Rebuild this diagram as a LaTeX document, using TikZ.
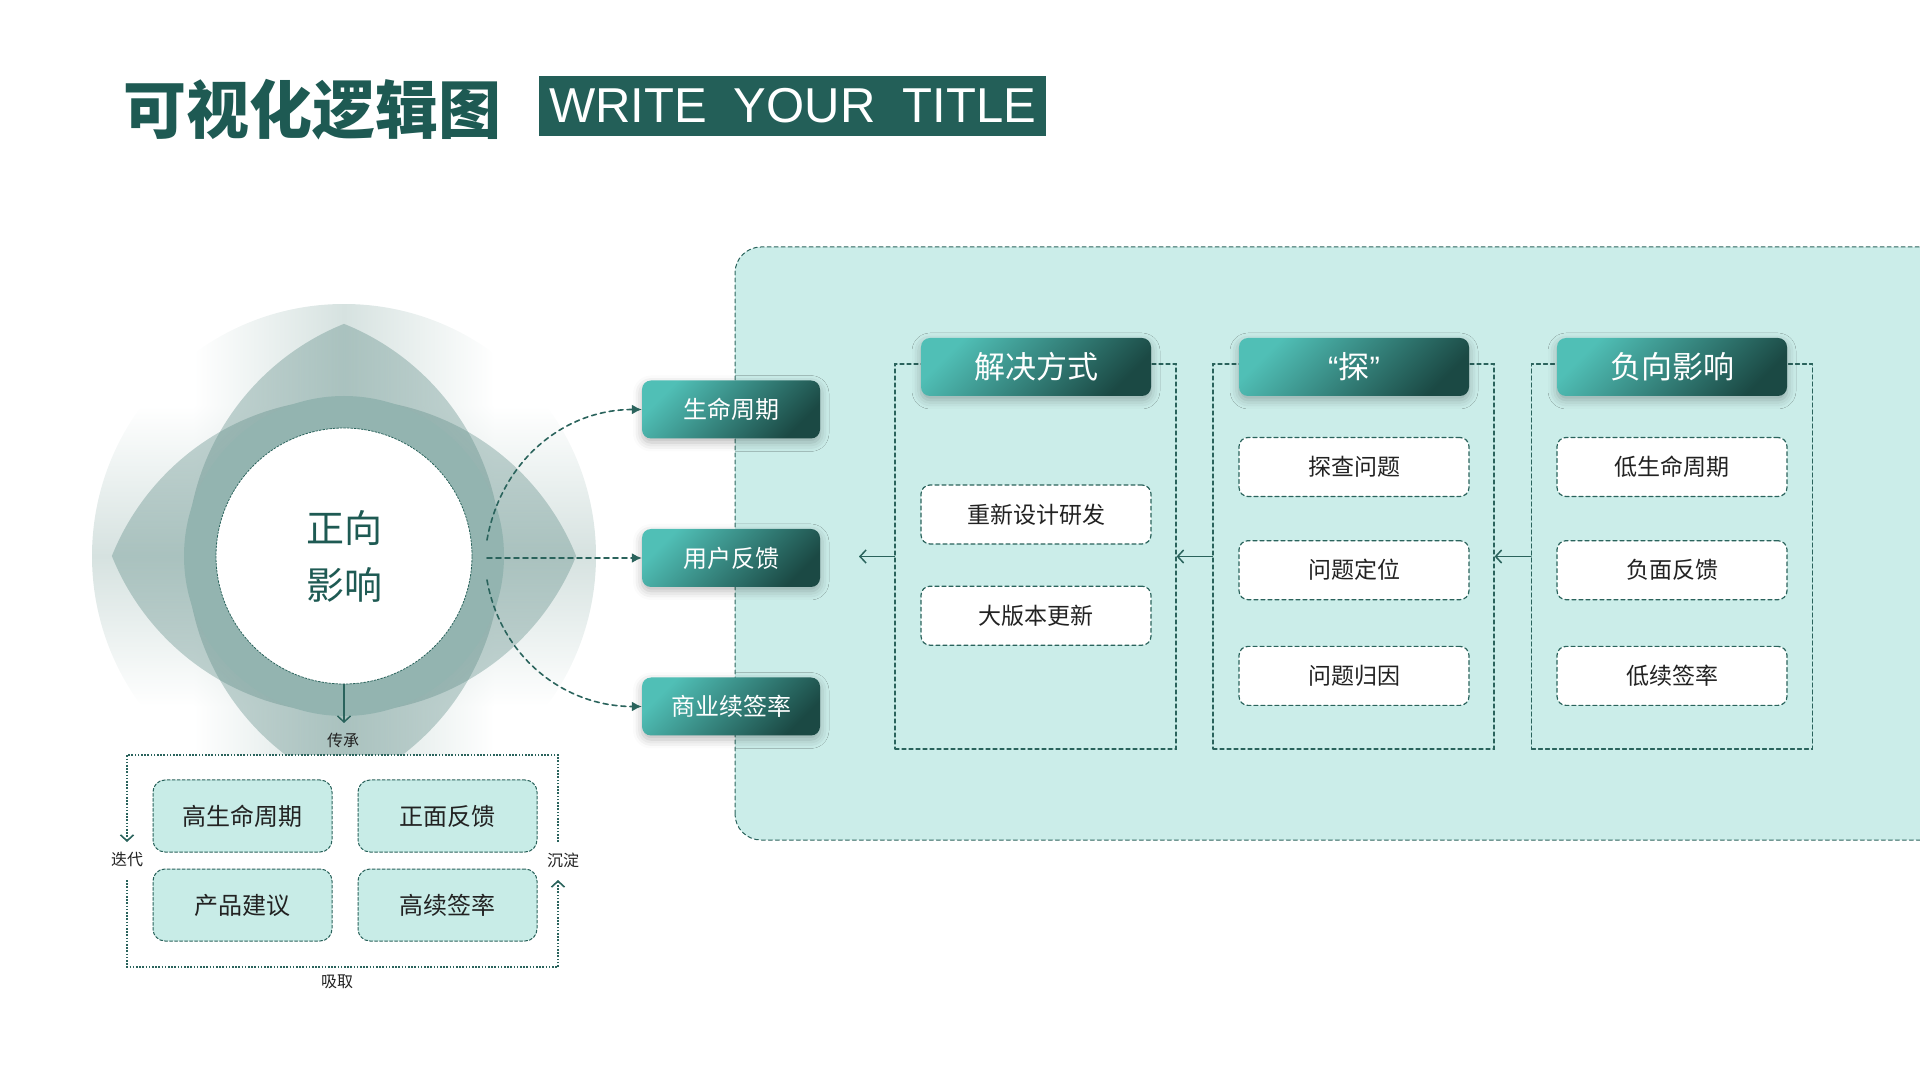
\documentclass[tikz,border=0pt]{standalone}
\usepackage{fontspec}
\setmainfont{Noto Sans CJK SC}
\newfontfamily\latinfont{Liberation Sans}
\usetikzlibrary{arrows.meta,positioning,fadings,shadows.blur}

\tikzfading[name=band fade h,left color=transparent!100,right color=transparent!100,middle color=transparent!0]
\tikzfading[name=band fade v,top color=transparent!100,bottom color=transparent!100,middle color=transparent!0]

\begin{document}
\begin{tikzpicture}
		[x=1pt,y=1pt,line cap=round,
		%Styles
		haze band/.style={fill=hazecolor,path fading=#1},
		lens/.style={fill=lenscolor,fill opacity=0.37},
		dashed line/.style={draw=linecolor,line width=1.2pt,dash pattern=on 4pt off 3pt},
		glow/.style={blur shadow={shadow xshift=0pt,shadow yshift=-4pt,shadow blur radius=9pt,shadow opacity=28}},
		grad box/.style={rounded corners=9pt,top color=tealhi,bottom color=teallo,shading angle=45,
			text=white,glow,minimum width=178pt,minimum height=58pt,font=\fontsize{24}{24}\selectfont},
		head box/.style={grad box,minimum width=230pt,font=\fontsize{31}{31}\selectfont},
		item box/.style={dashed line,fill=white,rounded corners=9pt,minimum width=230pt,minimum height=59pt,
			text=textcolor,font=\fontsize{23}{23}\selectfont},
		group frame/.style={dashed line,minimum width=281pt,minimum height=385pt},
		keep box/.style={draw=linecolor,line width=1pt,dash pattern=on 3pt off 2pt,fill=mint,rounded corners=12pt,
			minimum width=179pt,minimum height=72pt,text=textcolor,font=\fontsize{24}{24}\selectfont},
		small text/.style={font=\fontsize{16}{16}\selectfont,text=textcolor},
		loop line/.style={draw=linecolor,line width=1.6pt,dash pattern=on 1.6pt off 1.6pt,line cap=butt},
		barb/.style={-{Straight Barb[length=6pt,width=13pt]}},
		spread/.style={draw=linecolor,line width=1.6pt,dash pattern=on 5pt off 4pt,-{Latex[length=10pt,width=10pt]}},
		back arrow/.style={draw=linecolor,line width=1.5pt,barb}
		]
		
		%Colors
		\definecolor{linecolor}{HTML}{2A635C}
		\definecolor{titlecolor}{HTML}{1E5A53}
		\definecolor{titlebg}{HTML}{235F58}
		\definecolor{panelfill}{HTML}{CBEDE9}
		\definecolor{mint}{HTML}{C8ECE7}
		\definecolor{ringcolor}{HTML}{93B4B0}
		\definecolor{lenscolor}{HTML}{5F8C87}
		\definecolor{hazecolor}{HTML}{D6E2E0}
		\definecolor{tealhi}{HTML}{50BFB6}
		\definecolor{teallo}{HTML}{1B4944}
		\definecolor{textcolor}{HTML}{222222}
		
		\useasboundingbox (0,0) rectangle (1920,1080);
		
		%Title
		\node[font=\fontsize{63}{63}\selectfont\bfseries,text=titlecolor] (title) at (312,970) {可视化逻辑图};
		\node[fill=titlebg,text=white,minimum width=507pt,minimum height=60pt,font=\latinfont\fontsize{49}{49}\selectfont]
			(subtitle) at (792.5,974) {WRITE\hspace{27pt}YOUR\hspace{27pt}TITLE};
		
		%Panel
		\draw[dashed line,line width=1pt,fill=panelfill,rounded corners=26pt] (735,240) rectangle (2000,833);
		
		%The flower
		\coordinate (hub) at (344,524);
		\begin{scope}
			\clip (hub) circle (252);
			\fill[haze band=band fade h] (194,272) rectangle (494,776);
			\fill[haze band=band fade v] (92,374) rectangle (596,674);
		\end{scope}
		\begin{scope}
			\clip (437,524) circle (250);
			\fill[lens] (251,524) circle (250);
		\end{scope}
		\begin{scope}
			\clip (344,617) circle (250);
			\fill[lens] (344,431) circle (250);
		\end{scope}
		\fill[ringcolor] (hub) circle (160);
		\node[circle,fill=white,draw=linecolor,line width=0.8pt,dash pattern=on 2pt off 1.5pt,minimum size=256pt,
			align=center,text=titlecolor,font=\fontsize{38}{57}\selectfont] (core) at (hub) {正向\\影响};
		
		%Keep loop
		\fill[white] (127,113) rectangle (558,325);
		\coordinate (loopNW) at (127,325);
		\coordinate (loopNE) at (558,325);
		\coordinate (loopSW) at (127,113);
		\coordinate (loopSE) at (558,113);
		\coordinate (iterTip) at (127,238);
		\coordinate (iterBot) at (127,200);
		\coordinate (sinkTop) at (558,238);
		\coordinate (sinkTip) at (558,200);
		\draw[loop line,barb] (sinkTop) -- (loopNE) -- (loopNW) -- (iterTip);
		\draw[loop line,barb] (iterBot) -- (loopSW) -- (loopSE) -- (sinkTip);
		
		\coordinate (inherit) at (344,357);
		\draw[back arrow] (core.south) -- (inherit);
		\node[small text] (inheritlabel) at (343,340) {传承};
		\node[small text] (iterlabel) at (127,221) {迭代};
		\node[small text] (sinklabel) at (563,220) {沉淀};
		\node[small text] (absorblabel) at (337,98) {吸取};
		
		\node[keep box] (highlife) at (242.5,264) {高生命周期};
		\node[keep box,right=25pt of highlife] (goodfeed) {正面反馈};
		\node[keep box,below=16pt of highlife] (advice) {产品建议};
		\node[keep box,below=16pt of goodfeed] (highrenew) {高续签率};
		
		%Spread
		\node[grad box] (life) at (731,670.5) {生命周期};
		\node[grad box] (userfb) at (731,522) {用户反馈};
		\node[grad box] (renew) at (731,373.5) {商业续签率};
		\coordinate (outA) at (487,540);
		\coordinate (outB) at (487,522);
		\coordinate (outC) at (487,500);
		\draw[spread] (outA) to[out=80,in=180] (life.west);
		\draw[spread] (outB) -- (userfb.west);
		\draw[spread] (outC) to[out=-80,in=180] (renew.west);
		
		%Groups
		\node[group frame] (fixframe) at (1035.5,523.5) {};
		\node[group frame] (probeframe) at (1353.5,523.5) {};
		\node[group frame] (badframe) at (1672,523.5) {};
		\node[head box] (fixhead) at (1036,713) {解决方式};
		\node[head box] (probehead) at (1354,713) {{\latinfont “}探{\latinfont ”}};
		\node[head box] (badhead) at (1672,713) {负向影响};
		
		\node[item box] (redesign) at (1036,565.5) {重新设计研发};
		\node[item box,below=41pt of redesign] (bigupdate) {大版本更新};
		\node[item box] (probe) at (1354,613) {探查问题};
		\node[item box,below=43pt of probe] (locate) {问题定位};
		\node[item box,below=45.5pt of locate] (cause) {问题归因};
		\node[item box] (lowlife) at (1672,613) {低生命周期};
		\node[item box,below=43pt of lowlife] (badfeed) {负面反馈};
		\node[item box,below=45.5pt of badfeed] (lowrenew) {低续签率};
		
		\coordinate (backtip) at (859,523.5);
		\draw[back arrow] (badframe.west) -- (probeframe.east);
		\draw[back arrow] (probeframe.west) -- (fixframe.east);
		\draw[back arrow] (fixframe.west) -- (backtip);
	\end{tikzpicture}
\end{document}
